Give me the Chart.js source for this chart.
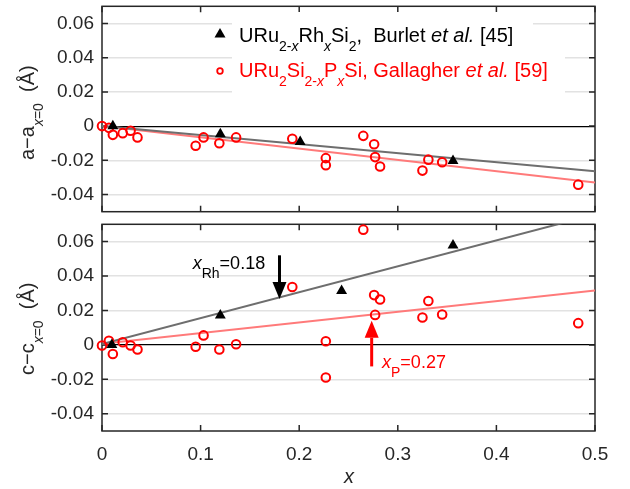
<!DOCTYPE html>
<html>
<head>
<meta charset="utf-8">
<script src="https://cdn.jsdelivr.net/npm/chart.js@4/dist/chart.umd.min.js"></script>
<style>
  html, body { margin: 0; padding: 0; background: #fff; }
  #wrap { position: relative; width: 630px; height: 489px; }
  #topBox { position: absolute; left: 0; top: 0; width: 630px; height: 218px; }
  #botBox { position: absolute; left: 0; top: 218px; width: 630px; height: 271px; }
</style>
</head>
<body>
<div id="wrap">
  <div id="topBox"><canvas id="topChart"></canvas></div>
  <div id="botBox"><canvas id="botChart"></canvas></div>
</div>
<script>
// ---- data ----
const xTicks = [0, 0.1, 0.2, 0.3, 0.4, 0.5];
const yTicks = [-0.04, -0.02, 0, 0.02, 0.04, 0.06];

// URu2-xRhxSi2 (Burlet et al.)
const rhXa = [0.011, 0.120, 0.201, 0.356];
const rhA  = [0.0000, -0.0047, -0.0092, -0.0203];
const rhXc = [0.010, 0.120, 0.243, 0.356];
const rhC  = [0.0000, 0.0172, 0.0314, 0.0578];

// URu2Si2-xPxSi (Gallagher et al.)
const pX = [0.000, 0.007, 0.011, 0.021, 0.029, 0.036, 0.095, 0.103, 0.119, 0.136, 0.193,
            0.227, 0.227, 0.265, 0.276, 0.277, 0.282, 0.325, 0.331, 0.345, 0.483];
const pA = [0.0000, -0.0010, -0.0051, -0.0041, -0.0027, -0.0066, -0.0115, -0.0066, -0.0100, -0.0066, -0.0074,
            -0.0187, -0.0228, -0.0057, -0.0106, -0.0181, -0.0236, -0.0260, -0.0196, -0.0211, -0.0342];
const pC = [-0.0004, 0.0024, -0.0053, 0.0015, -0.0004, -0.0027, -0.0011, 0.0055, -0.0027, 0.0004, 0.0336,
            0.0021, -0.0189, 0.0669, 0.0289, 0.0174, 0.0263, 0.0159, 0.0255, 0.0176, 0.0126];

// linear fits
const fitX   = [0, 0.5];
const fitRhA = [0, -0.0263];
const fitPA  = [0, -0.0329];
const fitRhC = [0.0005, 0.0757];
const fitPC  = [0.0007, 0.0315];

// arrows in the c panel
const rhArrow = { x: 0.18, from: 0.052, to: 0.0266 };
const pArrow  = { x: 0.2735, from: -0.0125, to: 0.0140 };

const FONT = '"Liberation Sans", Arial, Helvetica, sans-serif';
const INK = '#262626';

const toPts = (xs, ys) => xs.map((x, i) => ({ x: x, y: ys[i] }));

// draw text made of parts (subscripts / italics), left to right
function drawRich(ctx, x, y, parts, size) {
    parts.forEach(p => {
        const s = p.sub ? 14 : size;
        ctx.font = (p.it ? 'italic ' : '') + s + 'px ' + FONT;
        ctx.fillText(p.t, x, y + (p.sub ? 9 : 0));
        x += ctx.measureText(p.t).width;
    });
}

function drawArrow(ctx, px, y0, y1, color) {
    const dir = y1 > y0 ? 1 : -1;
    const headLen = 17, headW = 7;
    ctx.save();
    ctx.strokeStyle = color;
    ctx.fillStyle = color;
    ctx.lineWidth = 3;
    ctx.beginPath();
    ctx.moveTo(px, y0);
    ctx.lineTo(px, y1 - dir * headLen);
    ctx.stroke();
    ctx.beginPath();
    ctx.moveTo(px, y1);
    ctx.lineTo(px - headW, y1 - dir * headLen);
    ctx.lineTo(px + headW, y1 - dir * headLen);
    ctx.closePath();
    ctx.fill();
    ctx.restore();
}

// box with inward ticks on all four sides
const framePlugin = {
    id: 'frame',
    beforeDatasetsDraw(chart) {
        const { ctx, chartArea: a, scales } = chart;
        ctx.save();
        ctx.strokeStyle = INK;
        ctx.lineWidth = 1.5;
        ctx.strokeRect(a.left, a.top, a.right - a.left, a.bottom - a.top);
        ctx.beginPath();
        xTicks.forEach(v => {
            const px = scales.x.getPixelForValue(v);
            ctx.moveTo(px, a.bottom); ctx.lineTo(px, a.bottom - 6);
            ctx.moveTo(px, a.top); ctx.lineTo(px, a.top + 6);
        });
        yTicks.forEach(v => {
            const py = scales.y.getPixelForValue(v);
            ctx.moveTo(a.left, py); ctx.lineTo(a.left + 6, py);
            ctx.moveTo(a.right, py); ctx.lineTo(a.right - 6, py);
        });
        ctx.stroke();
        ctx.restore();
    }
};

function yTitle(ctx, startY, letter) {
    ctx.save();
    ctx.fillStyle = INK;
    ctx.textBaseline = 'alphabetic';
    ctx.translate(34, startY);
    ctx.rotate(-Math.PI / 2);
    drawRich(ctx, 0, 0, [
        { t: letter + '\u2212' + letter },
        { t: 'x', sub: true, it: true },
        { t: '=0', sub: true },
        { t: '  (\u00C5)' }
    ], 20);
    ctx.restore();
}

const topPlugin = {
    id: 'topDeco',
    beforeDatasetsDraw(chart) {
        const ctx = chart.ctx;
        ctx.save();
        // legend background hides the grid
        ctx.fillStyle = '#fff';
        ctx.fillRect(232, 12, 301, 30);
        ctx.fillRect(232, 42, 333, 58);
        // legend markers
        ctx.fillStyle = '#000';
        ctx.beginPath();
        ctx.moveTo(220, 28); ctx.lineTo(225.5, 37.5); ctx.lineTo(214.5, 37.5);
        ctx.closePath(); ctx.fill();
        ctx.strokeStyle = '#ff0000';
        ctx.lineWidth = 1.8;
        ctx.beginPath(); ctx.arc(220, 71, 2.8, 0, Math.PI * 2); ctx.stroke();
        // legend text
        ctx.textBaseline = 'alphabetic';
        ctx.fillStyle = '#000';
        drawRich(ctx, 239, 42, [
            { t: 'URu' }, { t: '2-', sub: true }, { t: 'x', sub: true, it: true },
            { t: 'Rh' }, { t: 'x', sub: true, it: true },
            { t: 'Si' }, { t: '2', sub: true },
            { t: ',  Burlet ' }, { t: 'et al.', it: true }, { t: ' [45]' }
        ], 20);
        ctx.fillStyle = '#ff0000';
        drawRich(ctx, 239, 77, [
            { t: 'URu' }, { t: '2', sub: true },
            { t: 'Si' }, { t: '2-', sub: true }, { t: 'x', sub: true, it: true },
            { t: 'P' }, { t: 'x', sub: true, it: true },
            { t: 'Si, Gallagher ' }, { t: 'et al.', it: true }, { t: ' [59]' }
        ], 20);
        ctx.restore();
    },
    afterDraw(chart) {
        yTitle(chart.ctx, 160, 'a');
    }
};

const botPlugin = {
    id: 'botDeco',
    afterDatasetsDraw(chart) {
        const { ctx, scales } = chart;
        const x = scales.x, y = scales.y;
        drawArrow(ctx, x.getPixelForValue(rhArrow.x), y.getPixelForValue(rhArrow.from), y.getPixelForValue(rhArrow.to), '#000');
        drawArrow(ctx, x.getPixelForValue(pArrow.x), y.getPixelForValue(pArrow.from), y.getPixelForValue(pArrow.to), '#ff0000');
        ctx.save();
        ctx.textBaseline = 'alphabetic';
        ctx.fillStyle = '#000';
        drawRich(ctx, x.getPixelForValue(0.092), y.getPixelForValue(0.0443), [
            { t: 'x', it: true }, { t: 'Rh', sub: true }, { t: '=0.18' }
        ], 18);
        ctx.fillStyle = '#ff0000';
        drawRich(ctx, x.getPixelForValue(0.284), y.getPixelForValue(-0.0135), [
            { t: 'x', it: true }, { t: 'P', sub: true }, { t: '=0.27' }
        ], 18);
        ctx.restore();
    },
    afterDraw(chart) {
        const ctx = chart.ctx;
        yTitle(ctx, 157, 'c');
        ctx.save();
        ctx.fillStyle = INK;
        ctx.textAlign = 'center';
        ctx.font = 'italic 20px ' + FONT;
        ctx.fillText('x', 349, 265);
        ctx.restore();
    }
};

function makeChart(id, rx, ry, px, py, fr, fp, isBottom, plugin) {
    return new Chart(document.getElementById(id), {
        type: 'scatter',
        data: {
            datasets: [
                {
                    data: toPts(rx, ry), pointStyle: 'triangle', pointRadius: 6.3,
                    backgroundColor: '#000', borderColor: '#000', borderWidth: 0,
                    order: 0, clip: false
                },
                {
                    data: toPts(px, py), pointStyle: 'circle', pointRadius: 4.3,
                    backgroundColor: 'rgba(0,0,0,0)', borderColor: '#ff0000', borderWidth: 2,
                    order: 1, clip: false
                },
                {
                    data: toPts(fitX, fr), showLine: true, pointRadius: 0,
                    borderColor: '#6e6e6e', borderWidth: 2, order: 2
                },
                {
                    data: toPts(fitX, fp), showLine: true, pointRadius: 0,
                    borderColor: '#ff7a7a', borderWidth: 2, order: 3
                }
            ]
        },
        options: {
            responsive: true,
            maintainAspectRatio: false,
            animation: false,
            events: [],
            layout: { padding: { left: 0, right: 35, top: isBottom ? 2 : 4, bottom: 0 } },
            plugins: { legend: { display: false }, tooltip: { enabled: false } },
            scales: {
                x: {
                    type: 'linear', min: 0, max: 0.5,
                    afterBuildTicks: s => { s.ticks = xTicks.map(v => ({ value: v })); },
                    afterFit: s => {
                        s.height = isBottom ? 58 : 2;
                        s.paddingLeft = 0; s.paddingRight = 0;
                    },
                    grid: { display: false },
                    border: { display: false },
                    ticks: {
                        display: isBottom, color: INK, padding: 4,
                        font: { size: 19, family: FONT },
                        callback: v => String(v)
                    }
                },
                y: {
                    type: 'linear', min: -0.05, max: 0.07,
                    afterBuildTicks: s => { s.ticks = yTicks.map(v => ({ value: v })); },
                    afterFit: s => {
                        s.width = 102;
                        s.paddingTop = 0; s.paddingBottom = 0;
                    },
                    border: { display: false },
                    grid: {
                        drawTicks: false,
                        color: c => (c.tick && c.tick.value === 0) ? '#000' : '#e2e2e2',
                        lineWidth: c => (c.tick && c.tick.value === 0) ? 1.2 : 1.6
                    },
                    ticks: {
                        color: INK, padding: 8,
                        font: { size: 19, family: FONT },
                        callback: v => v === 0 ? '0' : v.toFixed(2)
                    }
                }
            }
        },
        plugins: [framePlugin, plugin]
    });
}

makeChart('topChart', rhXa, rhA, pX, pA, fitRhA, fitPA, false, topPlugin);
makeChart('botChart', rhXc, rhC, pX, pC, fitRhC, fitPC, true, botPlugin);
</script>
</body>
</html>
